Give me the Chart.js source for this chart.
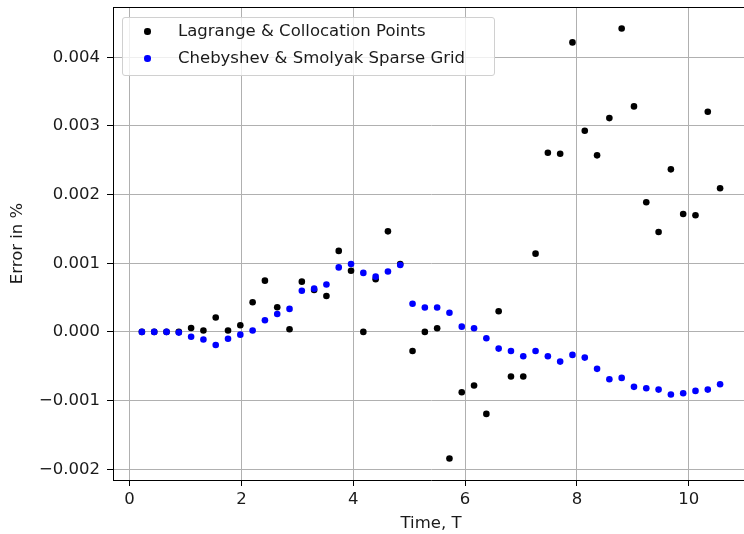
<!DOCTYPE html>
<html>
<head>
<meta charset="utf-8">
<script src="https://cdn.jsdelivr.net/npm/chart.js@4.4.0/dist/chart.umd.min.js"></script>
<style>
  html, body { margin: 0; padding: 0; background: #fff; overflow: hidden; }
  #wrap { position: relative; width: 749px; height: 534px; }
  #legend {
    position: absolute; left: 122px; top: 17px; width: 371px; height: 57px;
    border: 1px solid #d0d0d0; border-radius: 3px; background: rgba(255,255,255,0.8);
    font-family: "DejaVu Sans", sans-serif; font-size: 16.5px; color: #1a1a1a;
  }
  .row { position: absolute; left: 0; height: 20px; line-height: 20px; white-space: nowrap; }
  .dot { position: absolute; left: 21px; top: 7px; width: 6.5px; height: 6.5px; border-radius: 50%; }
  .lbl { position: absolute; left: 55px; top: 0; }
</style>
</head>
<body>
<div id="wrap">
  <canvas id="errChart" width="749" height="534"></canvas>
  <div id="legend">
    <div class="row" style="top:3px"><span class="dot" style="background:#000"></span><span class="lbl">Lagrange &amp; Collocation Points</span></div>
    <div class="row" style="top:30px"><span class="dot" style="background:#0000ff"></span><span class="lbl">Chebyshev &amp; Smolyak Sparse Grid</span></div>
  </div>
</div>
<script>
// time points
const timeT = [0.22, 0.44, 0.66, 0.88, 1.10, 1.32, 1.54, 1.76, 1.98, 2.20, 2.42, 2.64,
  2.86, 3.08, 3.30, 3.52, 3.74, 3.96, 4.18, 4.40, 4.62, 4.84, 5.06, 5.28,
  5.50, 5.72, 5.94, 6.16, 6.38, 6.60, 6.82, 7.04, 7.26, 7.48, 7.70, 7.92,
  8.14, 8.36, 8.58, 8.80, 9.02, 9.24, 9.46, 9.68, 9.90, 10.12, 10.34, 10.56];

// error in %
const lagrangeErr = [0, 0, 0, 0, 0.000058, 0.00002, 0.000209, 0.00002, 0.000097, 0.000432, 0.000747, 0.000359,
  0.000039, 0.000732, 0.000611, 0.000524, 0.00118, 0.000892, 0, 0.000767, 0.001465, 0.00099, -0.000277, 0,
  0.000053, -0.001844, -0.000878, -0.000781, -0.001194, 0.000301, -0.00065, -0.00065, 0.00114, 0.00261, 0.002595, 0.004217,
  0.00293, 0.002572, 0.003115, 0.00442, 0.003285, 0.001888, 0.001456, 0.002368, 0.001718, 0.001699, 0.003207, 0.002092];

const chebyshevErr = [0, 0, 0, -0.00001, -0.00007, -0.00011, -0.00019, -0.0001, -0.00004, 0.00002, 0.00017, 0.00026,
  0.000335, 0.0006, 0.00063, 0.00069, 0.00094, 0.00099, 0.00086, 0.000805, 0.00088, 0.000975, 0.00041, 0.000355,
  0.000355, 0.00028, 0.000077, 0.000053, -0.000092, -0.000243, -0.000277, -0.000354, -0.000277, -0.000354, -0.000432, -0.000335,
  -0.000374, -0.000538, -0.000689, -0.00067, -0.0008, -0.00082, -0.00084, -0.000912, -0.000893, -0.000859, -0.00084, -0.000762];

const xTicksStep = 2;
const yTicksStep = 0.001;

function toPoints(xs, ys) {
  return xs.map((x, i) => ({ x: x, y: ys[i] }));
}

// draws the top spine like matplotlib
const topSpine = {
  id: 'topSpine',
  afterDraw(chart) {
    const { ctx, chartArea } = chart;
    ctx.save();
    ctx.strokeStyle = '#000';
    ctx.lineWidth = 1;
    ctx.beginPath();
    ctx.moveTo(chartArea.left, Math.round(chartArea.top) + 0.5);
    ctx.lineTo(chartArea.right, Math.round(chartArea.top) + 0.5);
    ctx.stroke();
    ctx.restore();
  }
};

const fontFam = '"DejaVu Sans", sans-serif';
const ctx = document.getElementById('errChart').getContext('2d');
new Chart(ctx, {
  type: 'scatter',
  data: {
    datasets: [{
      label: 'Lagrange & Collocation Points',
      data: toPoints(timeT, lagrangeErr),
      backgroundColor: '#000000',
      borderWidth: 0,
      pointRadius: 3.3,
      order: 2
    }, {
      label: 'Chebyshev & Smolyak Sparse Grid',
      data: toPoints(timeT, chebyshevErr),
      backgroundColor: '#0000ff',
      borderWidth: 0,
      pointRadius: 3.3,
      order: 1
    }]
  },
  options: {
    responsive: false,
    animation: false,
    devicePixelRatio: 1,
    // right edge of the axes runs just past the window, as in the original
    layout: { autoPadding: false, padding: { top: 7, right: 0, left: 0, bottom: 0 } },
    plugins: {
      legend: { display: false },
      tooltip: { enabled: false }
    },
    scales: {
      x: {
        type: 'linear',
        min: -0.297,
        max: 11.077,
        afterFit: (s) => { s.height = 54; s.paddingLeft = 0; s.paddingRight = 0; },
        ticks: {
          stepSize: xTicksStep,
          includeBounds: false,
          color: '#1a1a1a',
          padding: 4,
          font: { family: fontFam, size: 16.5 },
          callback: (v) => String(Math.round(v))
        },
        grid: { color: '#b0b0b0', lineWidth: 1, tickColor: '#000', tickLength: 6 },
        border: { color: '#000', width: 1 },
        title: {
          display: true,
          text: 'Time, T',
          color: '#1a1a1a',
          font: { family: fontFam, size: 16.5, lineHeight: 1.2 },
          padding: { top: 0, bottom: 0 }
        }
      },
      y: {
        type: 'linear',
        min: -0.002157,
        max: 0.004733,
        afterFit: (s) => { s.width = 113; s.paddingTop = 0; s.paddingBottom = 0; },
        ticks: {
          stepSize: yTicksStep,
          includeBounds: false,
          color: '#1a1a1a',
          padding: 7,
          font: { family: fontFam, size: 16.5 },
          callback: (v) => {
            if (Math.abs(v) < 1e-9) return '0.000';
            return v.toFixed(3).replace('-', '\u2212');
          }
        },
        grid: { color: '#b0b0b0', lineWidth: 1, tickColor: '#000', tickLength: 6 },
        border: { color: '#000', width: 1 },
        title: {
          display: true,
          text: 'Error in %',
          color: '#1a1a1a',
          font: { family: fontFam, size: 16.5, lineHeight: 1.2 },
          padding: { top: 8, bottom: 0 }
        }
      }
    }
  },
  plugins: [topSpine]
});
</script>
</body>
</html>
